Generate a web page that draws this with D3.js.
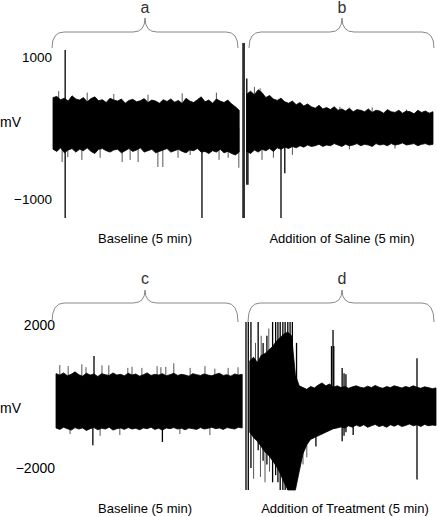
<!DOCTYPE html>
<html>
<head>
<meta charset="utf-8">
<script src="https://cdn.jsdelivr.net/npm/d3@7"></script>
<style>
  body { margin: 0; background: #fff; }
  text { font-family: "Liberation Sans", Arial, sans-serif; }
</style>
</head>
<body>
<svg id="chart" width="437" height="517"></svg>
<script>
// Envelope of each 5 min recording, one value per 0.1 min (mV)
const aHi = [430, 445, 400, 420, 380, 455, 410, 395, 430, 370,
             415, 440, 385, 400, 360, 420, 395, 380, 410, 350,
             390, 405, 370, 385, 415, 360, 395, 380, 350, 400,
             375, 410, 365, 390, 345, 420, 380, 360, 400, 440,
             370, 395, 350, 410, 380, 360, 395, 340, 300, 250];
const aLo = [-300, -330, -280, -350, -310, -290, -340, -300, -320, -280,
             -330, -360, -300, -290, -320, -340, -310, -300, -350, -320,
             -290, -330, -310, -280, -340, -320, -300, -350, -330, -310,
             -290, -340, -320, -300, -330, -350, -310, -320, -290, -340,
             -330, -360, -320, -340, -300, -350, -330, -360, -380, -340];
const bHi = [480, 520, 470, 540, 500, 430, 460, 410, 390, 420,
             370, 350, 380, 330, 360, 310, 340, 300, 280, 320,
             270, 290, 260, 300, 250, 270, 240, 280, 230, 260,
             250, 230, 270, 220, 250, 240, 210, 260, 230, 220,
             250, 210, 240, 230, 200, 250, 220, 240, 210, 230];
const bLo = [-330, -360, -310, -340, -300, -320, -290, -330, -280, -300,
             -270, -290, -260, -280, -250, -270, -240, -260, -250, -230,
             -260, -240, -250, -220, -240, -260, -230, -250, -240, -220,
             -250, -230, -240, -260, -220, -240, -230, -250, -220, -240,
             -230, -210, -240, -230, -220, -250, -230, -220, -240, -230];
const cHi = [640, 600, 660, 580, 620, 690, 610, 570, 650, 600,
             630, 560, 640, 610, 590, 660, 600, 620, 580, 650,
             600, 630, 570, 610, 660, 590, 620, 600, 640, 580,
             610, 650, 590, 620, 600, 570, 640, 610, 590, 630,
             600, 580, 620, 650, 590, 610, 570, 630, 600, 620];
const cLo = [-880, -920, -860, -900, -940, -870, -910, -880, -950, -900,
             -870, -930, -890, -910, -860, -940, -900, -880, -920, -870,
             -910, -890, -930, -880, -900, -860, -920, -890, -940, -880,
             -900, -870, -910, -890, -930, -880, -900, -920, -870, -910,
             -890, -860, -900, -880, -920, -870, -890, -910, -860, -880];
const dHi = [1000, 1100, 950, 1150, 1200, 1300, 1400, 1550, 1650, 1750,
             1800, 1700, 600, 300, 250, 200, 280, 240, 320, 380,
             300, 350, 260, 300, 250, 280, 230, 270, 300, 260,
             240, 290, 250, 310, 260, 230, 280, 250, 300, 270,
             240, 280, 250, 300, 260, 230, 270, 250, 220, 240];
const dLo = [-1000, -1150, -1250, -1400, -1550, -1650, -1800, -1950, -2150, -2400,
             -2615, -2615, -2615, -2100, -1600, -1350, -1200, -1150, -1100, -1050,
             -1000, -950, -900, -880, -850, -880, -820, -860, -800, -840,
             -790, -860, -820, -780, -840, -810, -860, -790, -830, -780,
             -840, -810, -770, -820, -790, -840, -780, -820, -800, -810];

// Large spikes [minute, low, high]
const aSpikes = [[0.32, -1270, 1100], [3.92, -1270, 0]];
const bSpikes = [[5.0, -1270, 1200], [5.03, -1270, 1200], [5.1, -800, 700], [5.13, -800, 300],
                 [6.0, -1270, 0], [6.1, -640, 0]];
const cSpikes = [[1.0, 0, 1130], [0.97, -1360, 0], [2.8, -1270, 0]];
const dSpikes = [[5.0, -2615, 2084], [5.06, -2615, 2084], [5.13, -2000, 2084], [5.32, -1500, 2084],
                 [5.45, -1800, 1500], [5.55, -1900, 1700], [5.7, -2400, 2084], [5.78, -2200, 2084],
                 [5.84, -2400, 2084], [5.9, -2615, 2084], [5.97, -2615, 2084], [6.03, -2615, 2084],
                 [6.1, -2615, 2084], [6.16, -2615, 2084], [6.22, -2615, 2084], [6.33, -2300, 1500],
                 [7.25, -900, 1410], [7.29, -600, 1860], [7.31, -900, 1410], [7.53, -1250, 800],
                 [7.58, -1100, 650], [7.63, -1000, 620], [9.5, -2320, 1070], [6.84, -1400, 0],
                 [7.82, -1080, 0]];

// Small grey excursions [minute, low, high]
const aMinor = [[0.24, -480, 0], [0.39, -410, 0], [0.76, -450, 0], [1.24, -420, 0], [1.82, -480, 0],
                [2.03, -450, 0], [2.24, -480, 0], [2.76, -550, 0], [2.89, -550, 0], [3.29, -420, 0],
                [3.61, -380, 0], [4.37, -450, 0], [4.61, -420, 0], [4.89, -560, 0],
                [0.15, 0, 520], [0.9, 0, 500], [1.6, 0, 480], [2.5, 0, 470], [3.4, 0, 490], [4.3, 0, 500]];
const bMinor = [[5.3, 0, 580], [5.45, 0, 560], [7.55, 0, 300], [9.3, 0, 260], [8.4, 0, 290],
                [5.5, -450, 0], [5.8, -420, 0], [6.3, -380, 0], [7.8, -300, 0], [9.0, -290, 0]];
const cMinor = [[0.1, 0, 880], [0.32, 0, 850], [0.68, 0, 900], [0.79, 0, 820], [1.21, 0, 870],
                [1.39, 0, 870], [1.89, 0, 800], [2.0, 0, 830], [2.26, 0, 800], [2.66, 0, 850],
                [2.76, 0, 820], [2.89, 0, 830], [3.1, 0, 930], [3.53, 0, 800], [3.92, 0, 850],
                [4.18, 0, 780], [4.53, 0, 800], [4.79, 0, 820],
                [0.37, -1050, 0], [1.16, -1100, 0], [1.68, -1080, 0], [3.26, -1050, 0], [4.05, -1080, 0]];
const dMinor = [[5.2, -2300, 0], [5.38, -2250, 0], [5.5, -2400, 0], [5.62, -2100, 0],
                [5.25, 0, 1500], [5.4, 0, 1700], [5.6, 0, 1900], [6.5, -1900, 0], [6.6, -1700, 0]];

const tickValuesTop = [1000, -1000];
const tickValuesBottom = [2000, -2000];
const segLetters = ["a", "b", "c", "d"];
const segLabels = ["Baseline (5 min)", "Addition of Saline (5 min)",
                   "Baseline (5 min)", "Addition of Treatment (5 min)"];

const svg = d3.select("#chart");

const panels = [
  { top: 43, bottom: 218, domain: [-1270, 1200], xr: [53, 433], ticks: tickValuesTop, fs: 13.5,
    unitY: 127, labelY: 243, braceEnd: 48, braceMid: 32, braceTip: 18, letterY: 13,
    braces: [[52, 238, 145], [249, 434, 342]], labelX: [145, 342],
    segs: [{ start: 0, hi: aHi, lo: aLo, spikes: aSpikes, minor: aMinor },
           { start: 5.1, hi: bHi, lo: bLo, spikes: bSpikes, minor: bMinor }],
    letters: [segLetters[0], segLetters[1]], labels: [segLabels[0], segLabels[1]] },
  { top: 322, bottom: 490, domain: [-2615, 2084], xr: [56, 436], ticks: tickValuesBottom, fs: 14,
    unitY: 413, labelY: 513, braceEnd: 322, braceMid: 303, braceTip: 290, letterY: 284,
    braces: [[52, 238, 145], [248, 434, 342]], labelX: [145, 345],
    segs: [{ start: 0, hi: cHi, lo: cLo, spikes: cSpikes, minor: cMinor },
           { start: 5.1, hi: dHi, lo: dLo, spikes: dSpikes, minor: dMinor }],
    letters: [segLetters[2], segLetters[3]], labels: [segLabels[2], segLabels[3]] }
];

panels.forEach(p => {
  const x = d3.scaleLinear().domain([0, 10]).range(p.xr);
  const y = d3.scaleLinear().domain(p.domain).range([p.bottom, p.top]);
  const g = svg.append("g");

  // y axis: labels only
  const ax = g.append("g")
    .attr("transform", `translate(${p.xr[0]},0)`)
    .call(d3.axisLeft(y).tickValues(p.ticks).tickSize(0).tickPadding(1).tickFormat(d3.format("d")));
  ax.select(".domain").remove();
  ax.selectAll("text").attr("font-size", p.fs).attr("fill", "#000")
    .style("font-family", '"Liberation Sans", Arial, sans-serif');

  g.append("text").attr("x", 0).attr("y", p.unitY).attr("font-size", 14).text("mV");

  p.segs.forEach((s, k) => {
    const rows = s.hi.map((h, i) => ({ t: s.start + i * 0.1, hi: h, lo: s.lo[i] }));
    const area = d3.area().x(d => x(d.t)).y0(d => y(d.lo)).y1(d => y(d.hi));

    g.selectAll(null).data(s.minor).enter().append("line")
      .attr("x1", d => x(d[0])).attr("x2", d => x(d[0]))
      .attr("y1", d => y(d[1])).attr("y2", d => y(d[2]))
      .attr("stroke", "#555").attr("stroke-width", 1);

    g.append("path").datum(rows)
      .attr("d", area)
      .attr("fill", "#000").attr("stroke", "#000").attr("stroke-width", 0.8);

    g.selectAll(null).data(s.spikes).enter().append("line")
      .attr("x1", d => x(d[0])).attr("x2", d => x(d[0]))
      .attr("y1", d => y(d[1])).attr("y2", d => y(d[2]))
      .attr("stroke", "#000").attr("stroke-width", 1.3);

    // brace over the segment
    const [b0, b1, bm] = p.braces[k];
    const r = 12;
    const path = `M${b0},${p.braceEnd} Q${b0},${p.braceMid} ${b0 + r},${p.braceMid} L${bm - r},${p.braceMid}` +
      ` Q${bm},${p.braceMid} ${bm},${p.braceTip} Q${bm},${p.braceMid} ${bm + r},${p.braceMid}` +
      ` L${b1 - r},${p.braceMid} Q${b1},${p.braceMid} ${b1},${p.braceEnd}`;
    g.append("path").attr("d", path).attr("fill", "none").attr("stroke", "#888").attr("stroke-width", 1);

    g.append("text").attr("x", bm).attr("y", p.letterY).attr("text-anchor", "middle")
      .attr("font-size", 16).attr("fill", "#333").text(p.letters[k]);

    g.append("text").attr("x", p.labelX[k]).attr("y", p.labelY).attr("text-anchor", "middle")
      .attr("font-size", 13).attr("fill", "#000").text(p.labels[k]);
  });
});
</script>
</body>
</html>
